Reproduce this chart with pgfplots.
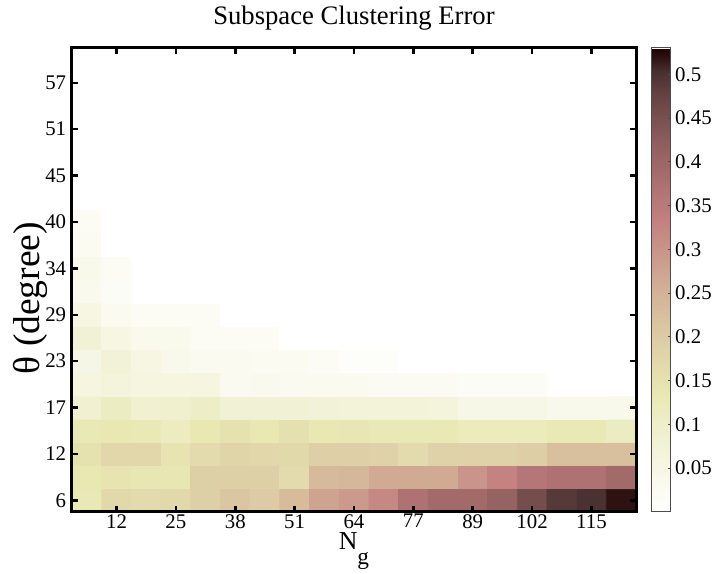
\documentclass[border=0pt]{standalone}
\usepackage{pgfplots}
\pgfplotsset{compat=1.18}
\usepackage{fontspec}
\setmainfont{Liberation Serif}

\pgfplotstableread{
x y c
1 1 0.13
2 1 0.17
3 1 0.165
4 1 0.17
5 1 0.19
6 1 0.21
7 1 0.20
8 1 0.23
9 1 0.275
10 1 0.29
11 1 0.32
12 1 0.37
13 1 0.39
14 1 0.39
15 1 0.41
16 1 0.455
17 1 0.49
18 1 0.50
19 1 0.52
1 2 0.135
2 2 0.145
3 2 0.14
4 2 0.14
5 2 0.19
6 2 0.19
7 2 0.19
8 2 0.165
9 2 0.235
10 2 0.24
11 2 0.265
12 2 0.265
13 2 0.265
14 2 0.30
15 2 0.33
16 2 0.36
17 2 0.37
18 2 0.37
19 2 0.39
1 3 0.15
2 3 0.175
3 3 0.175
4 3 0.145
5 3 0.165
6 3 0.18
7 3 0.175
8 3 0.17
9 3 0.19
10 3 0.19
11 3 0.185
12 3 0.165
13 3 0.185
14 3 0.185
15 3 0.185
16 3 0.195
17 3 0.225
18 3 0.225
19 3 0.225
1 4 0.13
2 4 0.135
3 4 0.13
4 4 0.115
5 4 0.135
6 4 0.15
7 4 0.135
8 4 0.155
9 4 0.135
10 4 0.14
11 4 0.13
12 4 0.13
13 4 0.13
14 4 0.12
15 4 0.12
16 4 0.12
17 4 0.13
18 4 0.13
19 4 0.11
1 5 0.085
2 5 0.11
3 5 0.085
4 5 0.09
5 5 0.105
6 5 0.08
7 5 0.08
8 5 0.08
9 5 0.075
10 5 0.072
11 5 0.07
12 5 0.07
13 5 0.065
14 5 0.045
15 5 0.045
16 5 0.045
17 5 0.04
18 5 0.04
19 5 0.04
1 6 0.06
2 6 0.065
3 6 0.06
4 6 0.06
5 6 0.06
6 6 0.03
7 6 0.035
8 6 0.03
9 6 0.03
10 6 0.028
11 6 0.022
12 6 0.022
13 6 0.022
14 6 0.018
15 6 0.018
16 6 0.018
17 6 0
18 6 0
19 6 0
1 7 0.05
2 7 0.075
3 7 0.055
4 7 0.04
5 7 0.03
6 7 0.03
7 7 0.025
8 7 0.025
9 7 0.02
10 7 0.012
11 7 0.012
12 7 0
13 7 0
14 7 0
15 7 0
16 7 0
17 7 0
18 7 0
19 7 0
1 8 0.08
2 8 0.055
3 8 0.038
4 8 0.038
5 8 0.02
6 8 0.02
7 8 0.02
8 8 0
9 8 0
10 8 0
11 8 0
12 8 0
13 8 0
14 8 0
15 8 0
16 8 0
17 8 0
18 8 0
19 8 0
1 9 0.055
2 9 0.03
3 9 0.02
4 9 0.02
5 9 0.02
6 9 0
7 9 0
8 9 0
9 9 0
10 9 0
11 9 0
12 9 0
13 9 0
14 9 0
15 9 0
16 9 0
17 9 0
18 9 0
19 9 0
1 10 0.035
2 10 0.018
3 10 0
4 10 0
5 10 0
6 10 0
7 10 0
8 10 0
9 10 0
10 10 0
11 10 0
12 10 0
13 10 0
14 10 0
15 10 0
16 10 0
17 10 0
18 10 0
19 10 0
1 11 0.04
2 11 0.02
3 11 0
4 11 0
5 11 0
6 11 0
7 11 0
8 11 0
9 11 0
10 11 0
11 11 0
12 11 0
13 11 0
14 11 0
15 11 0
16 11 0
17 11 0
18 11 0
19 11 0
1 12 0.025
2 12 0
3 12 0
4 12 0
5 12 0
6 12 0
7 12 0
8 12 0
9 12 0
10 12 0
11 12 0
12 12 0
13 12 0
14 12 0
15 12 0
16 12 0
17 12 0
18 12 0
19 12 0
1 13 0.02
2 13 0
3 13 0
4 13 0
5 13 0
6 13 0
7 13 0
8 13 0
9 13 0
10 13 0
11 13 0
12 13 0
13 13 0
14 13 0
15 13 0
16 13 0
17 13 0
18 13 0
19 13 0
}\errtable

\begin{document}
\begin{tikzpicture}
\begin{axis}[
  name=main,
  scale only axis,
  width=338.4pt, height=278.4pt,
  xmin=0.5, xmax=19.5, ymin=0.5, ymax=20.5,
  enlargelimits=false,
  axis on top,
  axis line style={line width=1.8pt},
  tick align=inside,
  tick pos=both,
  major tick length=3.6pt,
  every tick/.style={black, line width=1.5pt},
  xtick={2,4,...,18},
  xticklabels={12,25,38,51,64,77,89,102,115},
  ytick={1,3,...,19},
  yticklabels={6,12,17,23,29,34,40,45,51,57},
  ticklabel style={font=\fontsize{12.5}{13}\selectfont},
  xticklabel style={inner sep=0pt, yshift=-1.2pt},
  /pgf/number format/assume math mode=true,
  title={Subspace Clustering Error},
  title style={font=\fontsize{16}{18}\selectfont, at={(0.5,1)}, anchor=base, yshift=7.8pt, inner sep=0pt},
  xlabel={N\raisebox{-0.6em}{\fontsize{14}{15}\selectfont g}},
  xlabel style={font=\fontsize{15.5}{17}\selectfont, at={(0.5,0)}, anchor=base, yshift=-22.4pt, inner sep=0pt},
  ylabel={θ (degree)},
  ylabel style={font=\fontsize{22.5}{24}\selectfont, at={(-0.0745,0.461)}, anchor=center, inner sep=0pt},
  colormap={revpink}{
    rgb255(0)=(255,255,255)
    rgb255(10)=(246,246,228)
    rgb255(20)=(237,237,198)
    rgb255(25)=(233,233,180)
    rgb255(30)=(228,222,174)
    rgb255(40)=(218,198,161)
    rgb255(50)=(208,170,147)
    rgb255(60)=(198,137,132)
    rgb255(63)=(195,128,128)
    rgb255(70)=(174,114,114)
    rgb255(80)=(142,93,93)
    rgb255(90)=(101,66,66)
    rgb255(95)=(71,47,47)
    rgb255(100)=(30,0,0)
  },
  point meta min=0, point meta max=0.53,
  colorbar,
  colorbar style={
    at={(parent axis.north east)}, anchor=north west, xshift=1pt,
    width=11.4pt,
    axis line style={line width=0.6pt, black!70},
    ytick={0.05,0.1,0.15,0.2,0.25,0.3,0.35,0.4,0.45,0.5},
    yticklabels={0.05,0.1,0.15,0.2,0.25,0.3,0.35,0.4,0.45,0.5},
    yticklabel style={font=\fontsize{12.5}{13}\selectfont, inner sep=0pt, xshift=2.4pt},
    /pgf/number format/assume math mode=true,
    tick align=inside, ytick pos=right,
    major tick length=2pt,
    every tick/.style={black!70, line width=0.5pt},
  },
]
\addplot[matrix plot*, mesh/cols=19, point meta=explicit] table[x=x, y=y, meta=c] {\errtable};
\end{axis}
\path (main.south west) +(-43.2pt,-37.2pt) (main.north east) +(47.4pt,28.8pt);
\end{tikzpicture}
\end{document}
